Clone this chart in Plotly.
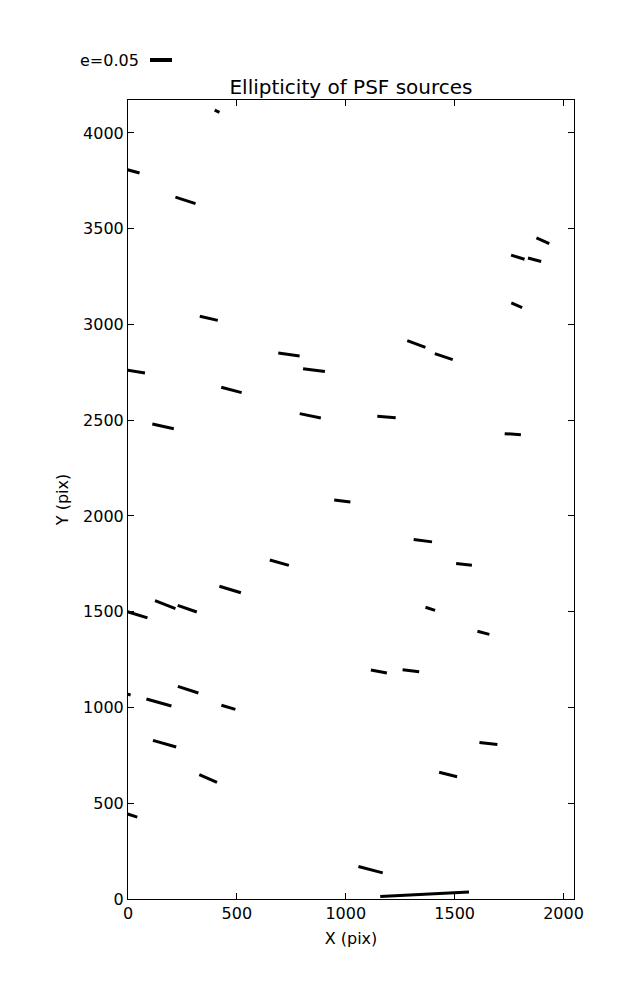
import math
import plotly.graph_objects as go

# ---- data ----
src_x = [409, 14, 264, 371, 1905, 1790, 1867, 1785, 1324, 1450,
         32, 161, 475, 739, 854, 837, 1187, 1767, 984, 1354,
         1543, 695, 469, 171, 272, 41, 1388, 1632, 1152, 1299,
         276, 142, 461, -24, 1655, 168, 1470, 368, 9, 1114, 1362]
src_y = [4113, 3803, 3648, 3032, 3437, 3351, 3338, 3100, 2898, 2832,
         2755, 2468, 2658, 2843, 2762, 2523, 2517, 2427, 2078, 1871,
         1747, 1756, 1616, 1537, 1516, 1485, 1515, 1390, 1188, 1192,
         1093, 1026, 1001, 1077, 812, 811, 650, 629, 440, 153, 25]
ellip = [0.012, 0.040, 0.048, 0.042, 0.032, 0.032, 0.031, 0.027, 0.044, 0.043,
         0.046, 0.050, 0.048, 0.049, 0.050, 0.049, 0.042, 0.037, 0.037, 0.042,
         0.036, 0.045, 0.051, 0.050, 0.046, 0.050, 0.023, 0.028, 0.037, 0.038,
         0.049, 0.059, 0.033, 0.037, 0.041, 0.055, 0.042, 0.044, 0.035, 0.057, 0.202]
angle_deg = [-25, -15, -17.7, -12.8, -23.7, -17.1, -14.7, -23.7, -20.4, -18.7,
             -9, -12.3, -14.7, -7.9, -7.3, -11.8, -4.4, -3.8, -7, -7.5,
             -6.6, -15.9, -16.7, -21.8, -19.1, -17, -18.3, -14.5, -10.8, -7.2,
             -18.2, -15.8, -16.3, -16, -5.8, -16, -13.7, -23.7, -18, -14.7, 3.0]

key_e = 0.05
x_ticks = [0, 500, 1000, 1500, 2000]
y_ticks = [0, 500, 1000, 1500, 2000, 2500, 3000, 3500, 4000]

# ---- layout geometry (page has an 8px body margin) ----
OFF = 8
W, H = 637 - OFF, 1000 - OFF
ML, MR, MT, MB = 128 - OFF, 63, 100 - OFF, 101
XR = [0, 2048]
YR = [0, 4172]
plot_w = W - ML - MR
plot_h = H - MT - MB
px_per_x = plot_w / (XR[1] - XR[0])
px_per_y = plot_h / (YR[1] - YR[0])
PX_PER_E = 440.0  # whisker length in pixels per unit ellipticity

wx, wy = [], []
for x, y, e, a in zip(src_x, src_y, ellip, angle_deg):
    half = 0.5 * e * PX_PER_E
    t = math.radians(a)
    dx = half * math.cos(t) / px_per_x
    dy = half * math.sin(t) / px_per_y
    wx += [x - dx, x + dx, None]
    wy += [y - dy, y + dy, None]

fig = go.Figure()
fig.add_trace(go.Scatter(x=wx, y=wy, mode="lines",
                         line=dict(color="black", width=3),
                         showlegend=False, hoverinfo="skip"))

font = dict(family="DejaVu Sans", size=16, color="black")
axis_common = dict(showgrid=False, zeroline=False, showline=True, linecolor="black",
                   linewidth=1, mirror="ticks", ticks="inside", ticklen=6,
                   tickwidth=1, tickcolor="black", tickfont=font)

fig.update_layout(
    width=W, height=H,
    margin=dict(l=ML, r=MR, t=MT, b=MB),
    paper_bgcolor="white", plot_bgcolor="white",
    font=font,
    title=dict(text="Ellipticity of PSF sources", x=0.5, xanchor="center",
               xref="paper", yref="paper", y=1, yanchor="bottom",
               pad=dict(b=6), font=dict(family="DejaVu Sans", size=20, color="black")),
    xaxis=dict(range=XR, tickvals=x_ticks, title=dict(text="X (pix)", font=font, standoff=10),
               **axis_common),
    yaxis=dict(range=YR, tickvals=y_ticks, title=dict(text="Y (pix)", font=font, standoff=10),
               **axis_common),
)

# quiver key: text then a sample whisker, above the top-left corner
key_y_page = 60
key_y = (H + OFF - MB - key_y_page) / plot_h
key_x0 = (150 - OFF - ML) / plot_w
key_x1 = key_x0 + key_e * PX_PER_E / plot_w
fig.add_annotation(text="e=0.05", xref="paper", yref="paper", x=key_x0 - 9 / plot_w, y=key_y,
                   xanchor="right", yanchor="middle", showarrow=False, font=font)
fig.add_shape(type="line", xref="paper", yref="paper", x0=key_x0, x1=key_x1, y0=key_y, y1=key_y,
              line=dict(color="black", width=4))

fig.write_html("out.html")
